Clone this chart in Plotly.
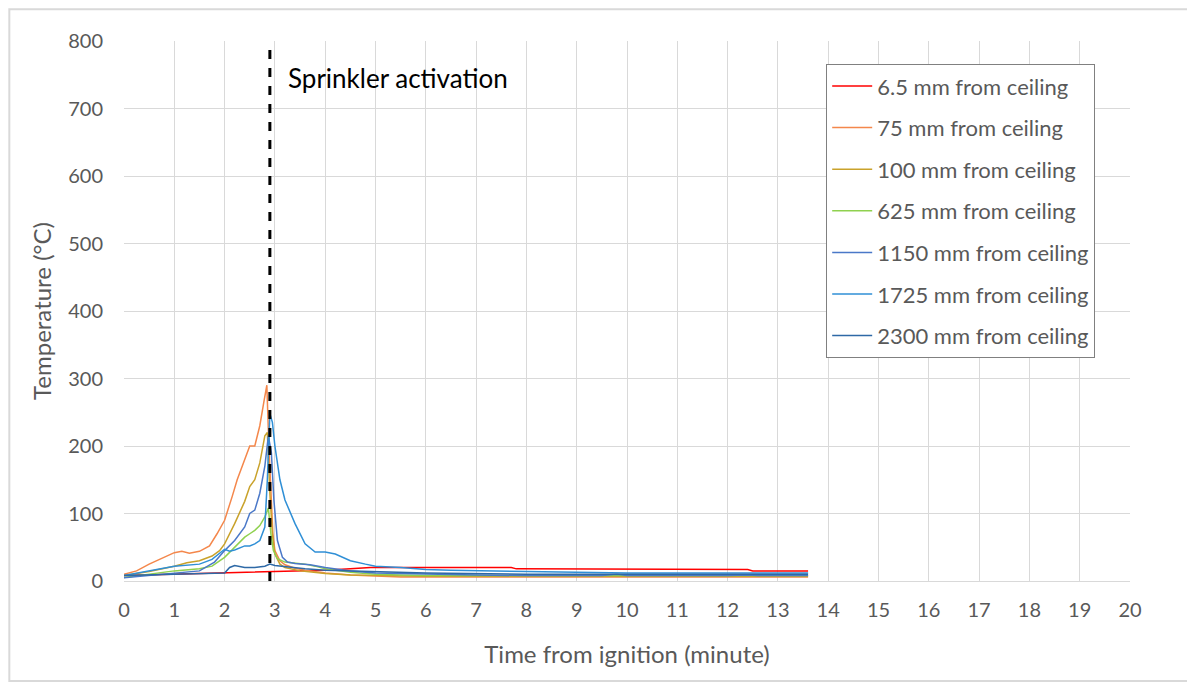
import plotly.graph_objects as go

# ---- data (time in minutes, temperature in °C) ----
series_names = ["6.5 mm from ceiling", "75 mm from ceiling", "100 mm from ceiling",
                "625 mm from ceiling", "1150 mm from ceiling", "1725 mm from ceiling",
                "2300 mm from ceiling"]
series_colors = ["#FF0000", "#F4874B", "#C9A22B", "#8FD14F", "#4A78C8", "#2F8FD6", "#2E69A6"]

t_65 = [0, 0.5, 1.0, 1.5, 2.0, 2.5, 3.0, 3.5, 4.0, 4.5, 4.9, 6.0, 7.0, 7.7, 7.8, 9.0, 10.0, 11.0, 12.4, 12.5, 13.0, 13.6]
T_65 = [8, 9, 10, 10, 11, 12, 13, 14, 16, 18, 20, 20, 20, 20, 18, 18, 18, 17, 17, 15, 15, 15]

t_75 = [0, 0.25, 0.5, 0.75, 1.0, 1.15, 1.3, 1.5, 1.7, 1.85, 2.0, 2.15, 2.25, 2.4, 2.5, 2.6, 2.7, 2.78, 2.84,
        2.88, 2.92, 2.96, 3.0, 3.1, 3.2, 3.4, 3.6, 3.8, 4.0, 4.5, 5.0, 5.5, 6.0, 7.0, 9.0, 11.0, 13.6]
T_75 = [10, 15, 25, 33, 42, 44, 41, 44, 52, 70, 90, 125, 150, 180, 200, 200, 230, 265, 290,
        200, 120, 70, 45, 30, 24, 19, 16, 14, 12, 9, 7, 6, 6, 6, 6, 6, 6]

t_100 = [0, 0.5, 1.0, 1.25, 1.5, 1.75, 1.9, 2.0, 2.2, 2.4, 2.5, 2.6, 2.7, 2.8, 2.85,
         2.9, 2.95, 3.0, 3.1, 3.2, 3.5, 4.0, 4.5, 5.0, 6.0, 8.0, 10.0, 13.6]
T_100 = [8, 14, 22, 27, 30, 37, 45, 55, 85, 118, 140, 150, 175, 215, 220,
         130, 70, 40, 25, 20, 15, 11, 9, 8, 7, 7, 7, 7]

t_625 = [0, 0.5, 1.0, 1.5, 1.75, 2.0, 2.2, 2.4, 2.5, 2.6, 2.7, 2.8, 2.87,
         2.92, 2.97, 3.05, 3.2, 3.4, 3.6, 3.8, 4.0, 4.5, 5.0, 5.5, 6.0, 8.0, 10.0, 13.6]
T_625 = [5, 10, 15, 18, 22, 35, 50, 65, 70, 75, 82, 95, 108,
         70, 45, 33, 28, 27, 25, 22, 18, 13, 10, 9, 8, 8, 8, 8]

t_1150 = [0, 0.5, 1.0, 1.5, 1.8, 2.0, 2.2, 2.4, 2.5, 2.6, 2.7, 2.8, 2.87,
          2.93, 2.98, 3.05, 3.15, 3.25, 3.4, 3.7, 4.0, 4.5, 5.0, 6.0, 7.0, 8.0, 9.5, 9.8, 10.0, 12.0, 12.4, 12.6, 13.6]
T_1150 = [5, 8, 12, 15, 28, 45, 60, 80, 100, 105, 130, 170, 215,
          190, 120, 60, 35, 28, 26, 24, 20, 15, 12, 10, 9, 8, 8, 10, 8, 8, 9, 8, 8]

t_1725 = [0, 0.5, 1.0, 1.5, 1.75, 2.0, 2.1, 2.2, 2.4, 2.5, 2.6, 2.7, 2.8, 2.85, 2.9, 2.95,
          3.0, 3.1, 3.2, 3.4, 3.6, 3.8, 4.0, 4.2, 4.5, 4.8, 5.0, 5.5, 6.0, 6.5, 7.0, 8.0, 9.0, 10.0, 12.0, 13.6]
T_1725 = [8, 15, 22, 25, 32, 47, 44, 46, 52, 52, 55, 60, 80, 150, 248, 235,
          200, 150, 120, 85, 55, 43, 43, 40, 30, 25, 22, 20, 17, 16, 15, 14, 13, 12, 12, 12]

t_2300 = [0, 1.0, 2.0, 2.1, 2.2, 2.4, 2.6, 2.8, 2.9, 3.0, 3.3, 3.6, 4.0, 5.0, 6.0, 8.0, 10.0, 13.6]
T_2300 = [8, 10, 12, 20, 23, 20, 20, 22, 25, 23, 20, 18, 16, 14, 12, 10, 10, 10]

series_t = [t_65, t_75, t_100, t_625, t_1150, t_1725, t_2300]
series_T = [T_65, T_75, T_100, T_625, T_1150, T_1725, T_2300]

activation_time = 2.9
x_ticks = list(range(0, 21))
y_ticks = list(range(0, 801, 100))

FONT = "Lato"
GRAY = "#595959"

fig = go.Figure()
for name, col, tt, TT in zip(series_names, series_colors, series_t, series_T):
    fig.add_trace(go.Scatter(x=tt, y=TT, mode="lines", name=name, legendgroup=name,
                             line=dict(color=col, width=1.5)))

fig.add_shape(type="line", x0=activation_time, x1=activation_time, y0=0, y1=800,
              xref="x", yref="y", line=dict(color="black", width=3, dash="dash"))
fig.add_annotation(x=3.22, y=745, xref="x", yref="y", text="Sprinkler activation",
                   showarrow=False, xanchor="left", yanchor="middle",
                   font=dict(family=FONT, size=26, color="black"))

# outer chart frame
fig.add_shape(type="rect", xref="paper", yref="paper",
              x0=-0.114, x1=1.0596, y0=-0.185, y1=1.059,
              line=dict(color="#D9D9D9", width=2), layer="below")

fig.update_layout(
    width=1187, height=678,
    margin=dict(l=116, r=65, t=33, b=105),
    paper_bgcolor="white", plot_bgcolor="white",
    font=dict(family=FONT, color=GRAY, size=20),
    showlegend=True,
    legend=dict(x=0.698, y=0.957, xanchor="left", yanchor="top",
                bgcolor="white", bordercolor="#808080", borderwidth=1,
                font=dict(family=FONT, size=22, color=GRAY),
                tracegroupgap=10, itemwidth=40),
    xaxis=dict(range=[0, 20], tickvals=x_ticks, ticktext=[str(v) for v in x_ticks],
               showgrid=True, gridcolor="#D9D9D9", gridwidth=1,
               showline=True, linecolor="#D9D9D9", linewidth=1, zeroline=False,
               ticks="", tickfont=dict(size=20, color=GRAY), ticklabelstandoff=11,
               title=dict(text="Time from ignition (minute)", font=dict(size=24, color=GRAY), standoff=26)),
    yaxis=dict(range=[0, 800], tickvals=y_ticks, ticktext=[str(v) for v in y_ticks],
               showgrid=True, gridcolor="#D9D9D9", gridwidth=1,
               showline=False, zeroline=False, ticks="",
               tickfont=dict(size=20, color=GRAY), ticklabelstandoff=20,
               title=dict(text="Temperature (°C)", font=dict(size=24, color=GRAY), standoff=9)),
)

fig.write_html("out.html")
